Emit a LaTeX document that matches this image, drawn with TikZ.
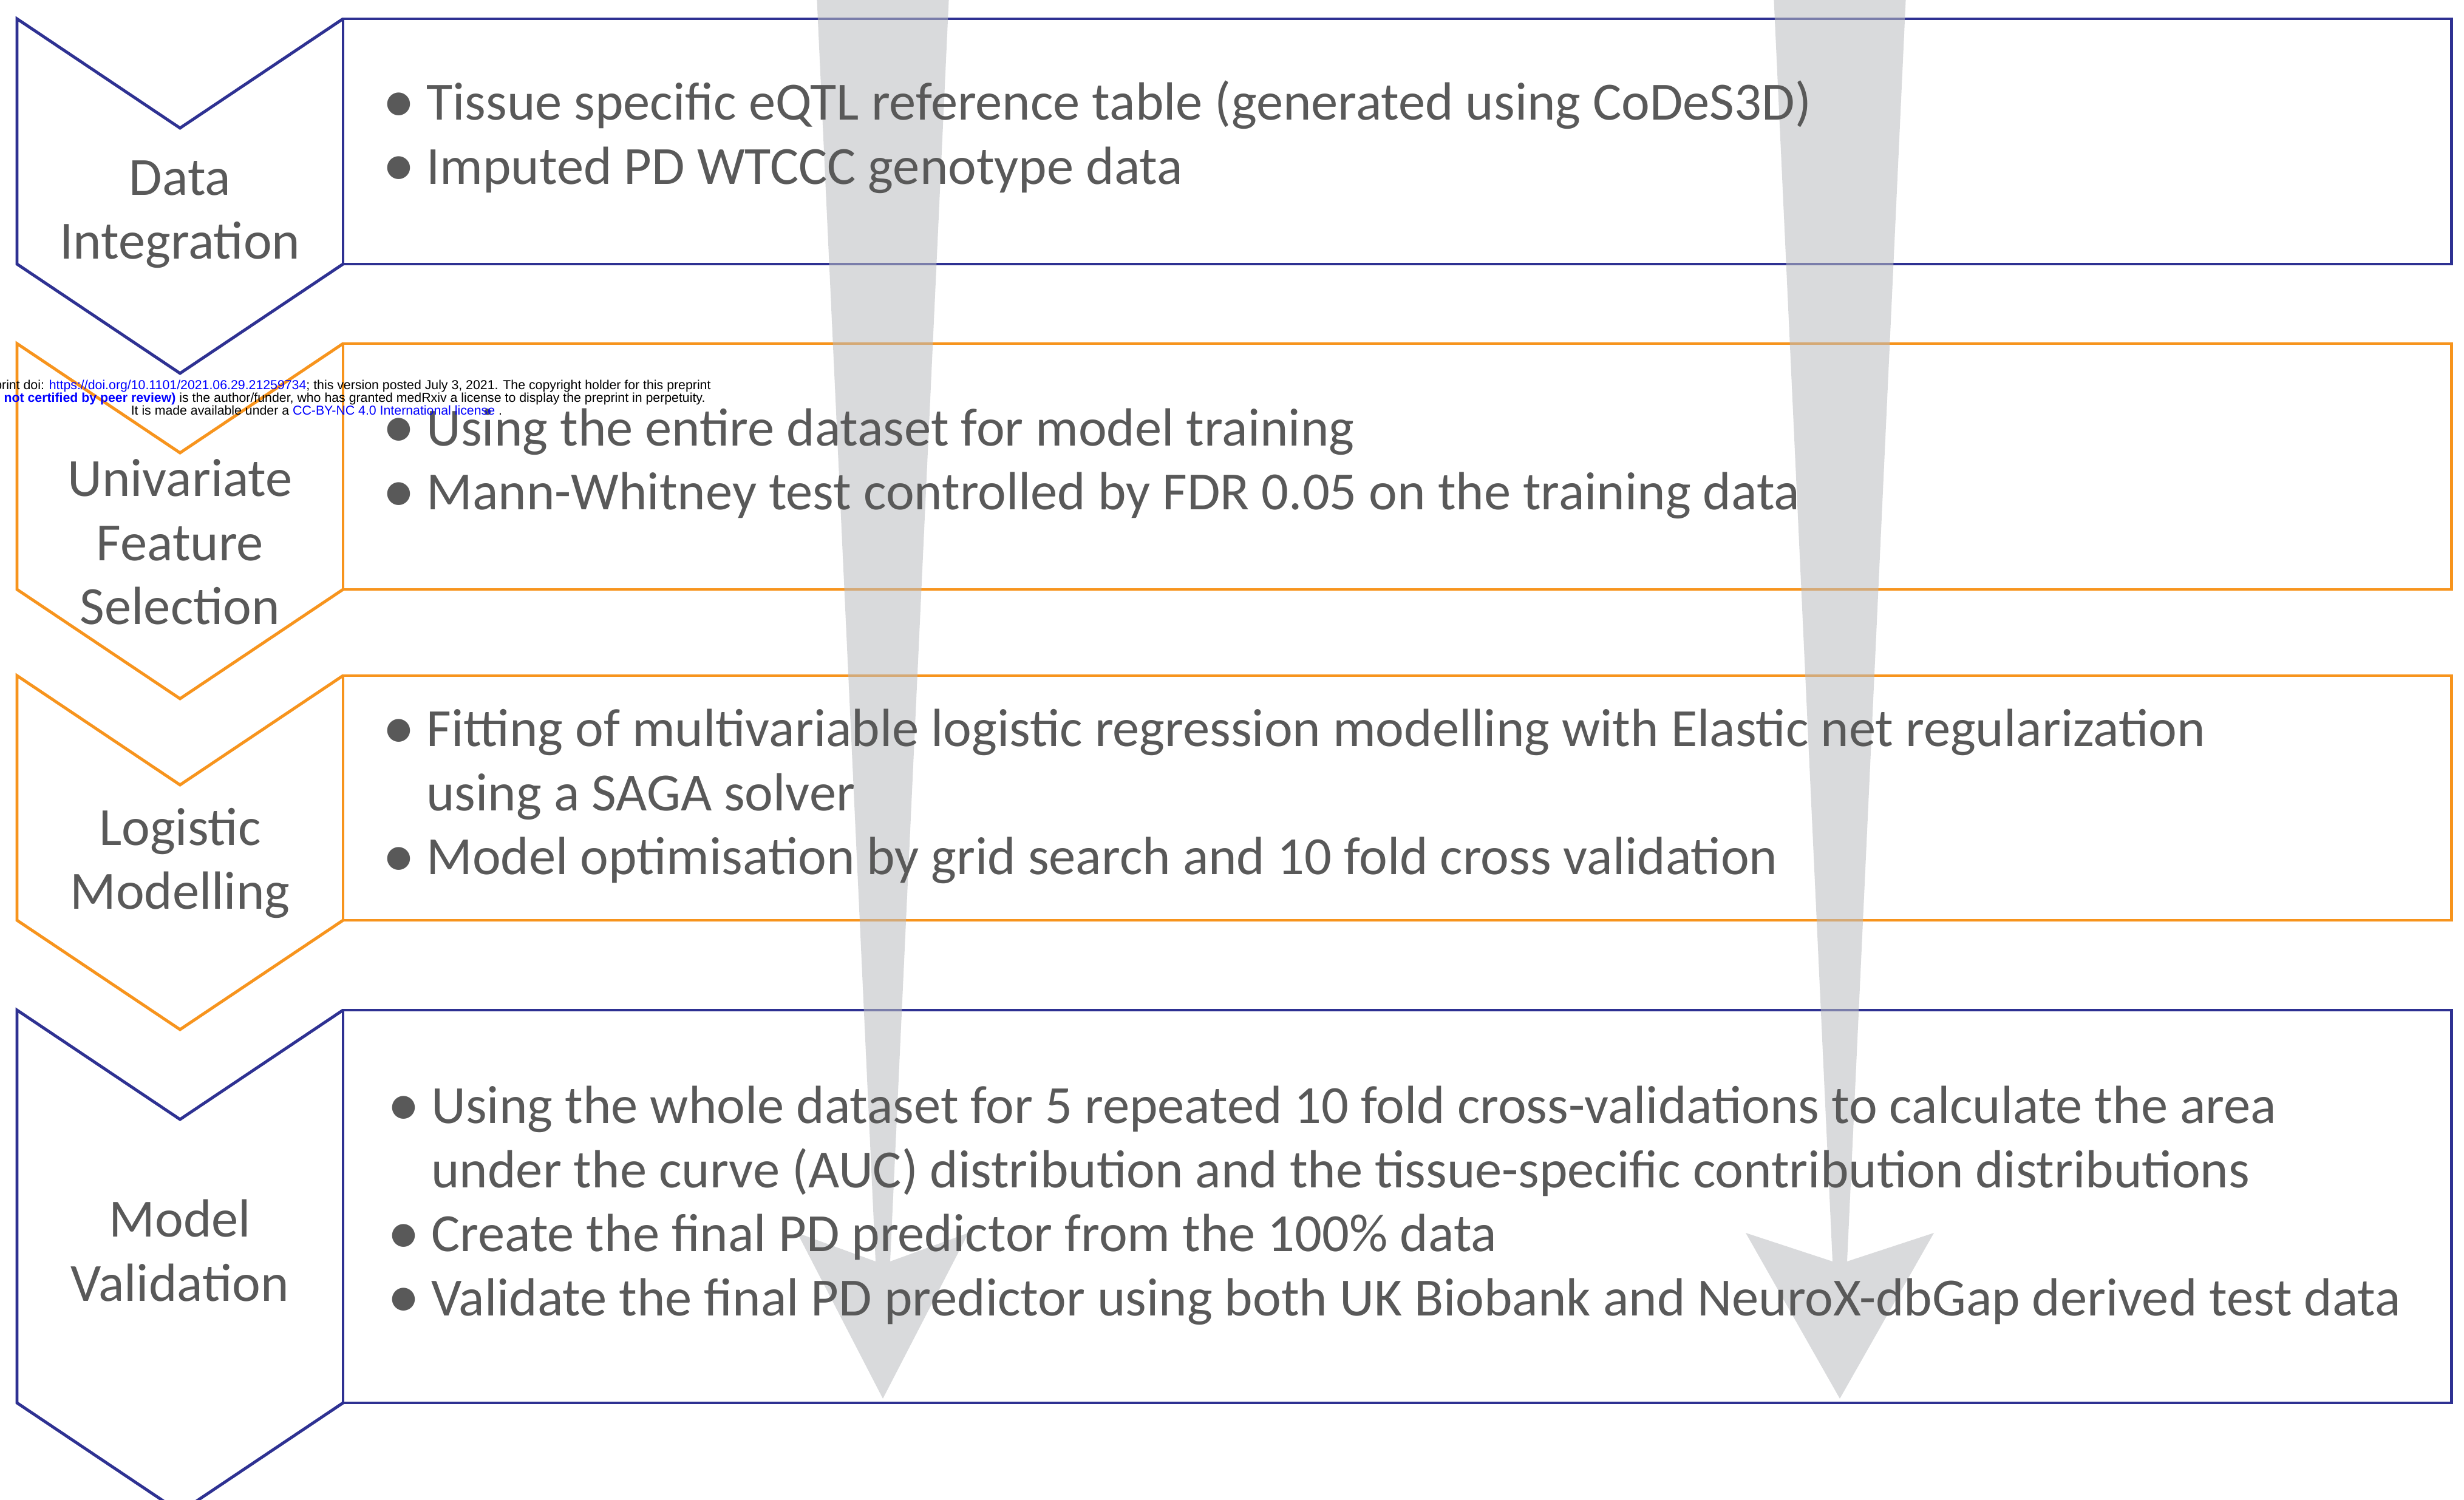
\documentclass[tikz,border=0pt]{standalone}
\usepackage{fontspec}
\setmainfont{Carlito}
\newfontfamily\notefont{Liberation Sans}
\usepackage{graphicx}
\usepackage{tikz}
\usetikzlibrary{positioning}
\usepackage{xcolor}
\definecolor{stageblue}{RGB}{46,49,146}
\definecolor{stageorange}{RGB}{247,148,29}
\definecolor{textgrey}{RGB}{89,89,89}
\definecolor{flowgrey}{RGB}{186,188,191}
\definecolor{linkblue}{RGB}{0,0,255}
\newcommand{\bul}{\makebox[0.3cm][l]{\hspace*{-0.06cm}\raisebox{-0.04em}{\scalebox{1.2}{\textbullet}}}}
\newcommand{\cont}{\hspace*{0.3cm}}

\begin{document}
\begin{tikzpicture}[
    stagebox/.style={draw=#1,line width=0.7pt,minimum width=17.36cm,inner sep=0pt,outer sep=0pt,anchor=north west},
    stagename/.style={text=textgrey,font=\fontsize{12.6}{15}\selectfont,align=center},
    points/.style={text=textgrey,font=\fontsize{12.6}{15}\selectfont,align=left,anchor=west,inner sep=0pt},
    flow/.style={fill=flowgrey,fill opacity=0.55},
    note/.style={font=\notefont\fontsize{3.03}{3}\selectfont,inner sep=0pt}
  ]
  \useasboundingbox (0,0) rectangle (20.29,12.355);

  % stage boxes
  \node[stagebox=stageblue,minimum height=2.02cm] (data) at (2.825,12.20) {};
  \node[stagebox=stageorange,minimum height=2.025cm] (univ) at (2.825,9.525) {};
  \node[stagebox=stageorange,minimum height=2.015cm] (logit) at (2.825,6.79) {};
  \node[stagebox=stageblue,minimum height=3.235cm] (valid) at (2.825,4.035) {};

  % chevrons hanging off the left side of each box
  \foreach \s/\c in {data/stageblue,univ/stageorange,logit/stageorange,valid/stageblue}
    \draw[\c,line width=0.7pt] (\s.north west) -- ++(-1.3425,-0.9) -- ++(-1.3425,0.9)
      -- ([xshift=-2.685cm]\s.south west) -- ++(1.3425,-0.9) -- (\s.south west);

  % grey flow arrows
  \foreach \x/\w in {7.27/0.705,15.15/0.775}
    \fill[flow] (\x-0.545,12.4) -- (\x+0.545,12.4) -- (\x+0.06,1.965) -- (\x+\w,2.2)
      -- (\x,0.835) -- (\x-\w,2.2) -- (\x-0.06,1.965) -- cycle;

  % stage names
  \node[stagename] (dataname) at (1.4825,10.59) {Data\\Integration};
  \node[stagename] (univname) at (1.4825,7.89) {Univariate\\Feature\\Selection};
  \node[stagename] (logitname) at (1.4825,5.245) {Logistic\\Modelling};
  \node[stagename] (validname) at (1.4825,2.055) {Model\\Validation};

  % bullet points
  \node[points] (datapts) at ([xshift=0.38cm,yshift=0.037cm]data.west)
    {\bul Tissue specific eQTL reference table (generated using CoDeS3D)\\
     \bul Imputed PD WTCCC genotype data};
  \node[points] (univpts) at ([xshift=0.38cm,yshift=0.024cm]univ.west)
    {\bul Using the entire dataset for model training\\
     \bul Mann-Whitney test controlled by FDR 0.05 on the training data};
  \node[points] (logitpts) at ([xshift=0.38cm,yshift=0.011cm]logit.west)
    {\bul Fitting of multivariable logistic regression modelling with Elastic net regularization\\
     \cont using a SAGA solver\\
     \bul Model optimisation by grid search and 10 fold cross validation};
  \node[points] (validpts) at ([xshift=0.42cm,yshift=0.008cm]valid.west)
    {\bul Using the whole dataset for 5 repeated 10 fold cross-validations to calculate the area\\
     \cont under the curve (AUC) distribution and the tissue-specific contribution distributions\\
     \bul Create the final PD predictor from the 100\% data\\
     \bul Validate the final PD predictor using both UK Biobank and NeuroX-dbGap derived test data};

  % preprint stamp
  \node[note,anchor=base east] (doi) at (5.86,9.145)
    {print doi: \textcolor{linkblue}{https://doi.org/10.1101/2021.06.29.21259734}; this version posted July 3, 2021. The copyright holder for this preprint};
  \node[note,anchor=base east] (review) at (5.815,9.04)
    {\textcolor{linkblue}{\bfseries not certified by peer review)} is the author/funder, who has granted medRxiv a license to display the preprint in perpetuity.};
  \node[note,anchor=base] (licence) at (2.607,8.935)
    {It is made available under a \textcolor{linkblue}{CC-BY-NC 4.0 International license} .};
\end{tikzpicture}
\end{document}
